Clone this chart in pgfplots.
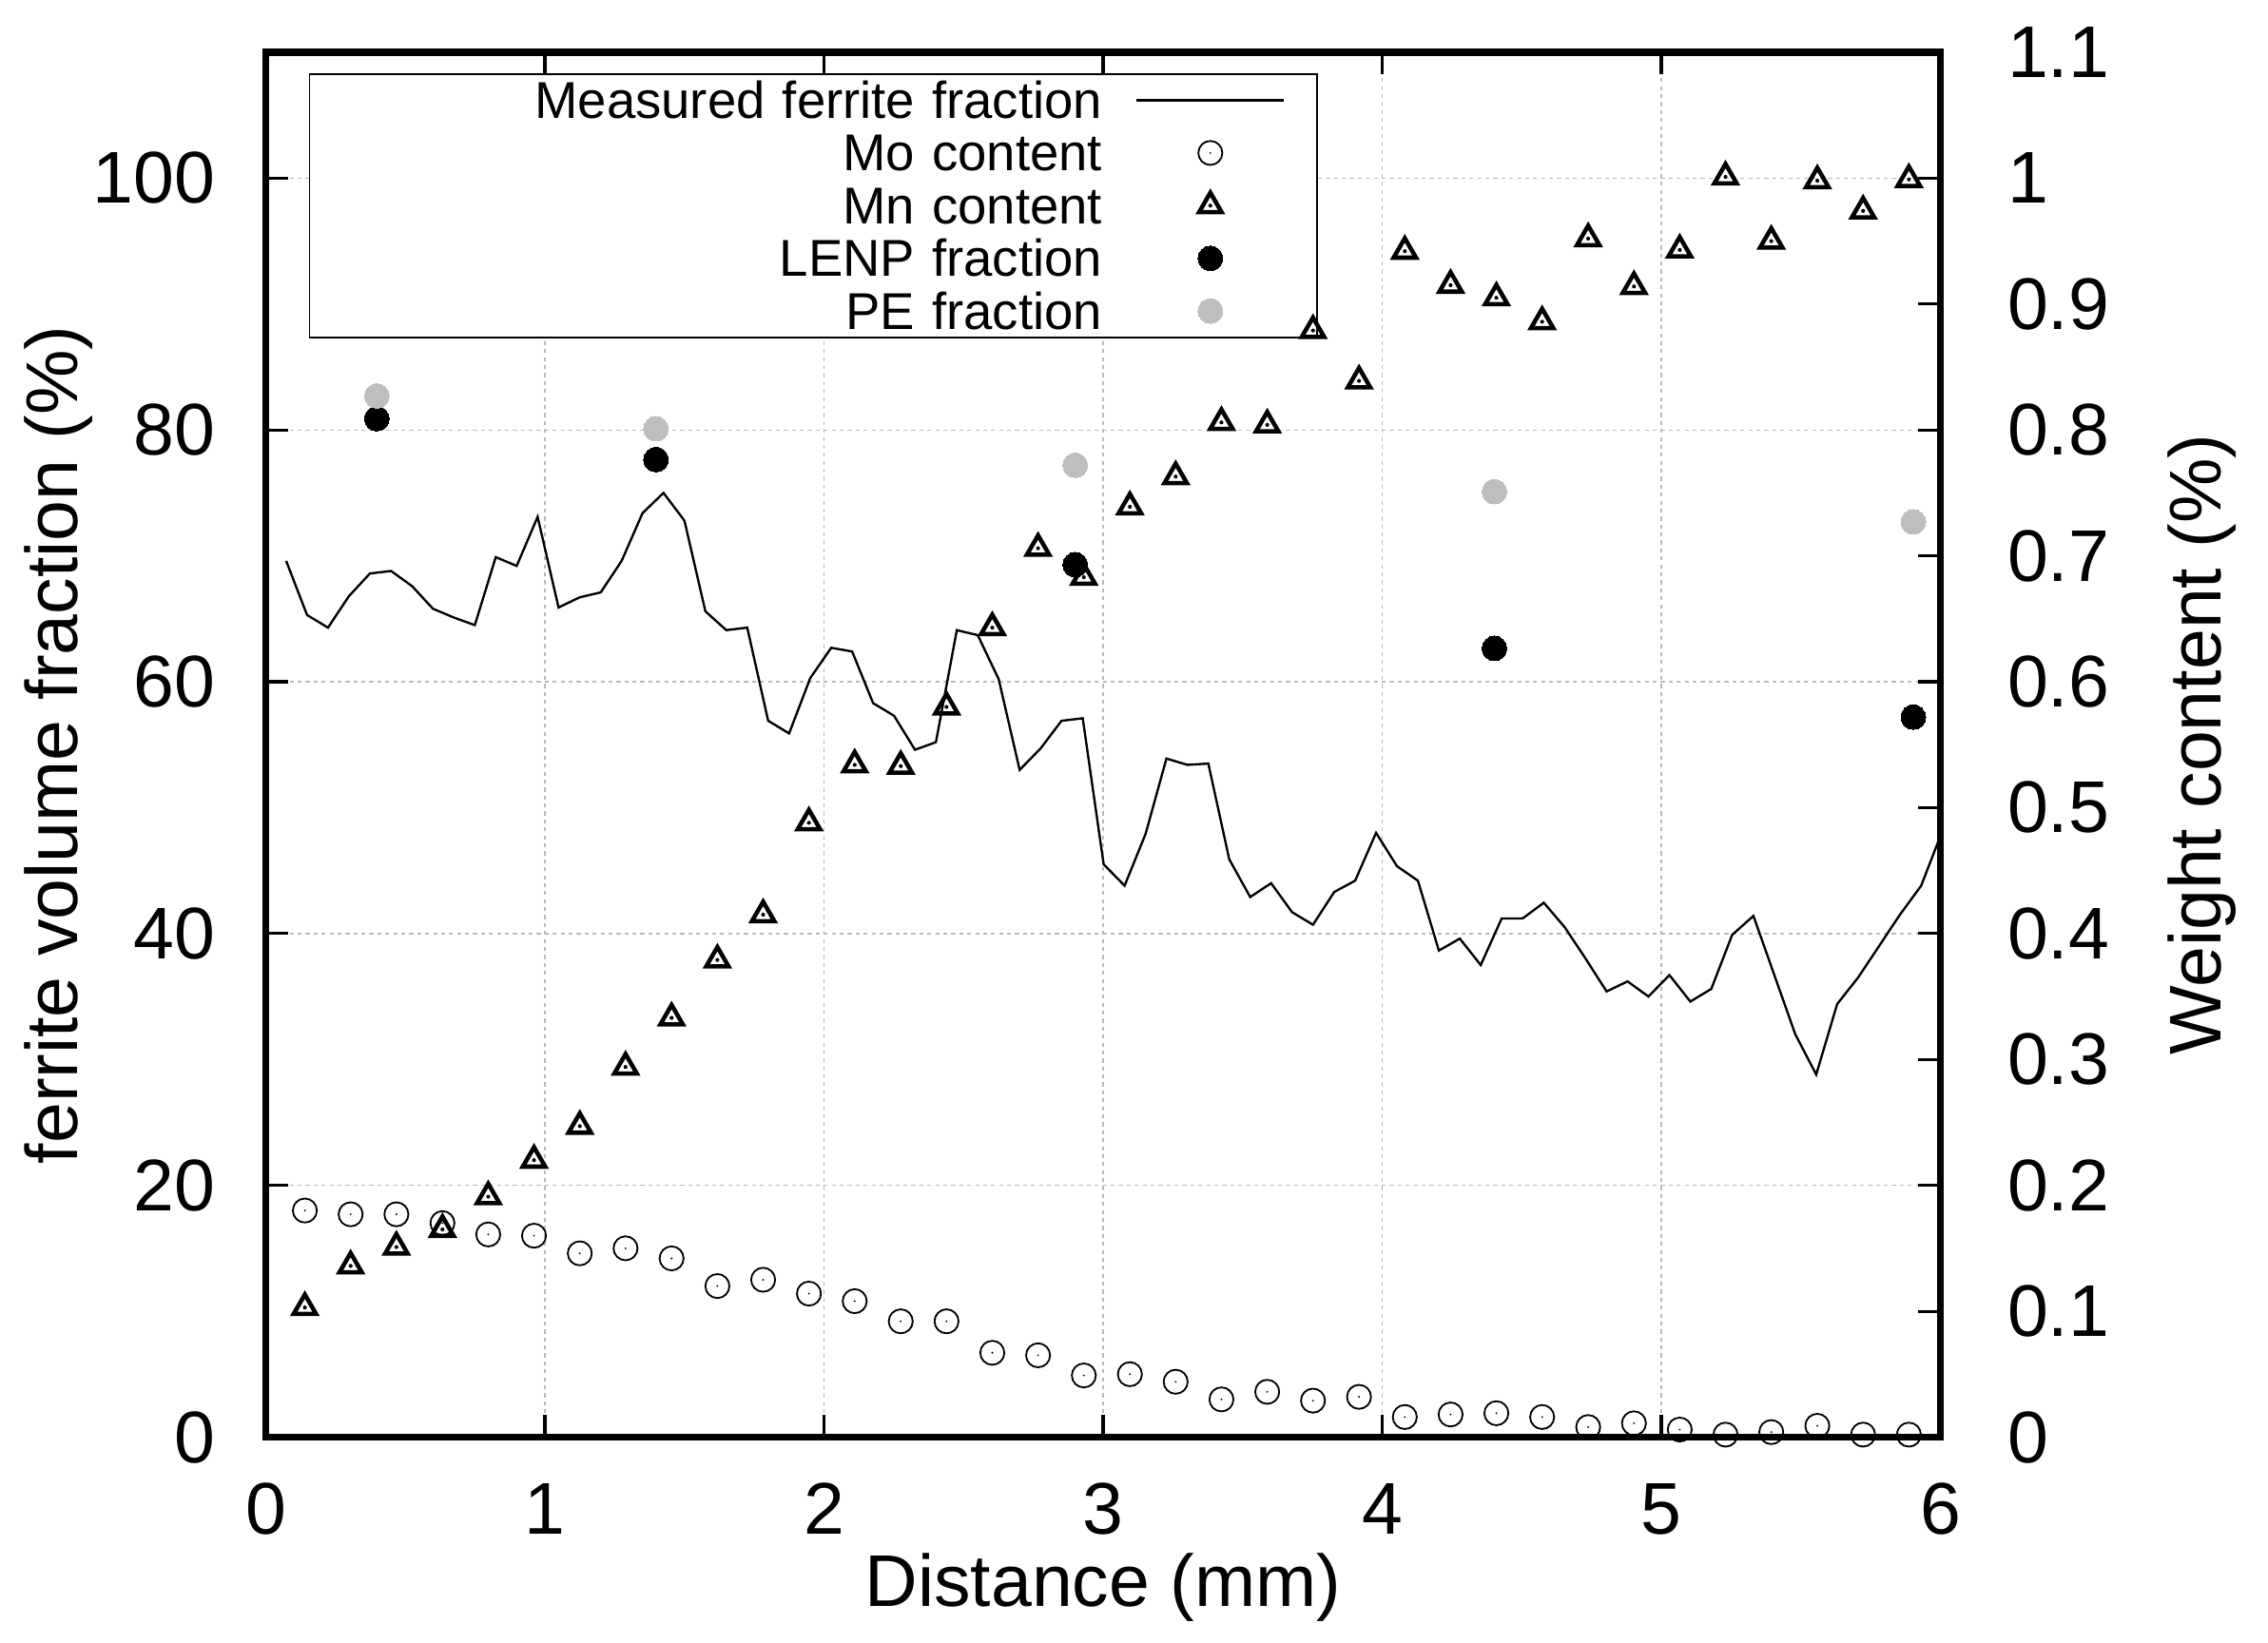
\documentclass[border=0pt]{standalone}
\usepackage{fontspec}
\setmainfont{Liberation Sans}
\usepackage{pgfplots}
\pgfplotsset{compat=1.18}
\usepackage{pgfplotstable}

\definecolor{pegray}{RGB}{190,190,190}
\definecolor{gridgray}{RGB}{185,185,185}

\pgfdeclareplotmark{odot}{%
  \pgfpathcircle{\pgfpointorigin}{\pgfplotmarksize}\pgfusepathqstroke
  \pgfpathcircle{\pgfpointorigin}{0.2pt}\pgfusepathqfill}
\pgfdeclareplotmark{tridot}{%
  \pgfpathmoveto{\pgfqpointpolar{90}{1.0\pgfplotmarksize}}%
  \pgfpathlineto{\pgfqpointpolar{210}{1.0\pgfplotmarksize}}%
  \pgfpathlineto{\pgfqpointpolar{330}{1.0\pgfplotmarksize}}%
  \pgfpathclose\pgfusepathqstroke
  \pgfpathcircle{\pgfpointorigin}{0.4pt}\pgfusepathqfill}

\pgfplotstableread{
x y
0.073 69.6
0.148 65.3
0.223 64.3
0.298 66.8
0.373 68.6
0.449 68.8
0.524 67.6
0.599 65.8
0.674 65.1
0.749 64.5
0.824 69.9
0.899 69.2
0.974 73.1
1.049 65.9
1.124 66.7
1.200 67.1
1.275 69.6
1.350 73.4
1.425 75.0
1.500 72.8
1.575 65.6
1.650 64.1
1.725 64.3
1.800 56.9
1.875 55.9
1.951 60.3
2.026 62.7
2.101 62.4
2.176 58.3
2.251 57.3
2.326 54.6
2.401 55.2
2.476 64.1
2.551 63.7
2.626 60.2
2.701 53.0
2.776 54.7
2.851 56.9
2.927 57.1
3.002 45.5
3.077 43.8
3.152 47.9
3.227 53.9
3.302 53.4
3.377 53.5
3.452 45.9
3.527 42.9
3.602 44.0
3.677 41.7
3.752 40.7
3.828 43.3
3.903 44.2
3.978 48.0
4.053 45.35
4.128 44.2
4.203 38.65
4.278 39.6
4.353 37.5
4.428 41.2
4.503 41.2
4.579 42.45
4.654 40.5
4.729 38.0
4.804 35.4
4.879 36.2
4.954 35.0
5.029 36.7
5.104 34.6
5.179 35.6
5.254 39.9
5.330 41.4
5.405 36.7
5.480 32.0
5.555 28.8
5.630 34.4
5.705 36.5
5.780 39.0
5.855 41.5
5.931 43.8
6.006 48.1
}\ferrite

\pgfplotstableread{
x mo mn
0.140 0.180 0.103
0.304 0.177 0.136
0.468 0.177 0.151
0.633 0.170 0.165
0.797 0.161 0.191
0.961 0.160 0.220
1.125 0.146 0.247
1.289 0.150 0.294
1.454 0.142 0.333
1.618 0.120 0.379
1.782 0.125 0.415
1.946 0.114 0.488
2.110 0.108 0.534
2.275 0.092 0.533
2.439 0.092 0.580
2.603 0.067 0.643
2.767 0.065 0.706
2.931 0.049 0.683
3.096 0.050 0.739
3.260 0.044 0.763
3.424 0.030 0.806
3.588 0.036 0.804
3.752 0.029 0.879
3.917 0.032 0.839
4.081 0.016 0.942
4.245 0.018 0.915
4.409 0.019 0.905
4.573 0.016 0.886
4.738 0.008 0.952
4.902 0.011 0.914
5.066 0.006 0.943
5.230 0.002 1.001
5.394 0.004 0.950
5.559 0.009 0.998
5.723 0.002 0.974
5.887 0.002 0.999
}\content

\pgfplotstableread{
x lenp pe
0.398 80.9 82.7
1.398 77.65 80.1
2.900 69.3 77.2
4.402 62.65 75.1
5.903 57.2 72.7
}\fractions

\begin{document}
\begin{tikzpicture}
\begin{axis}[name=ax1,
  scale only axis, width=11.814cm, height=9.771cm,
  xmin=0, xmax=6, ymin=0, ymax=110,
  xtick={0,1,2,3,4,5,6}, ytick={0,20,40,60,80,100},
  xtick pos=both, ytick pos=left,
  tick align=inside, major tick length=0.155cm,
  every tick/.style={black, line width=0.6pt},
  axis line style={line width=1.35pt},
  grid=major,
  major grid style={gridgray, line width=0.25pt, dash pattern=on 0.8pt off 0.8pt},
  tick label style={font=\fontsize{14.7}{17}\selectfont},
  /pgf/number format/assume math mode=true,
  xticklabel style={anchor=base, inner sep=0pt, yshift=-0.681cm},
  yticklabel style={anchor=east, inner sep=0pt, xshift=-0.35cm},
  legend cell align=right, legend plot pos=right,
  legend image code/.code={%
    \path (0cm,0cm) (1.487cm,0cm);
    \draw[mark repeat=2,mark phase=2,#1] plot coordinates {(0.228cm,0cm) (0.748cm,0cm) (1.268cm,0cm)};},
  legend style={at={(axis cs:0.1567,108.28)}, anchor=north west,
    draw=black, line width=0.3pt, fill=white,
    inner sep=0pt, outer sep=0pt, row sep=0pt, column sep=0pt,
    font=\fontsize{10.4}{12}\selectfont,
    nodes={text width=5.592cm, align=right, inner xsep=0pt, inner ysep=0pt,
           text height=0.3133cm, text depth=0.0584cm}},
]
\addplot[black, line width=0.45pt] table[x=x, y=y] {\ferrite};
\addlegendentry{Measured ferrite fraction}
\addlegendimage{black, only marks, mark=odot, mark size=2.41pt, line width=0.35pt, mark options={draw=black, fill=black}}
\addlegendentry{Mo content}
\addlegendimage{black, only marks, mark=tridot, mark size=2.6pt, line width=0.86pt, mark options={draw=black, fill=black, line join=miter}}
\addlegendentry{Mn content}
\addplot[only marks, mark=*, mark size=2.48pt, mark options={draw=black, fill=black, line width=0pt}] table[x=x, y=lenp] {\fractions};
\addlegendentry{LENP fraction}
\addplot[only marks, mark=*, mark size=2.48pt, mark options={draw=pegray, fill=pegray, line width=0pt}] table[x=x, y=pe] {\fractions};
\addlegendentry{PE fraction}
\end{axis}

\begin{axis}[name=ax2,
  scale only axis, width=11.814cm, height=9.771cm,
  xmin=0, xmax=6, ymin=0, ymax=1.1,
  hide x axis,
  axis y line*=right,
  ytick={0,0.1,0.2,0.3,0.4,0.5,0.6,0.7,0.8,0.9,1,1.1},
  tick align=inside, major tick length=0.155cm,
  every tick/.style={black, line width=0.6pt},
  axis line style={line width=1.35pt},
  tick label style={font=\fontsize{14.7}{17}\selectfont},
  /pgf/number format/assume math mode=true,
  yticklabel style={anchor=west, inner sep=0pt, xshift=0.466cm},
  clip=false,
]
\addplot[black, only marks, mark=odot, mark size=2.41pt, line width=0.35pt, mark options={draw=black, fill=black}] table[x=x, y=mo] {\content};
\addplot[black, only marks, mark=tridot, mark size=2.6pt, line width=0.86pt, mark options={draw=black, fill=black, line join=miter}] table[x=x, y=mn] {\content};
\end{axis}

\node[rotate=90, anchor=base, font=\fontsize{14.7}{17}\selectfont] at ([xshift=-1.328cm]ax1.west) {ferrite volume fraction (\%)};
\node[rotate=90, anchor=base, font=\fontsize{14.7}{17}\selectfont] at ([xshift=1.979cm]ax1.east) {Weight content (\%)};
\node[anchor=base, font=\fontsize{14.7}{17}\selectfont] at ([yshift=-1.191cm]ax1.south) {Distance (mm)};

\pgfresetboundingbox
\path ([xshift=-1.875cm,yshift=-1.446cm]ax1.south west) rectangle ([xshift=2.311cm,yshift=0.369cm]ax1.north east);
\end{tikzpicture}
\end{document}
